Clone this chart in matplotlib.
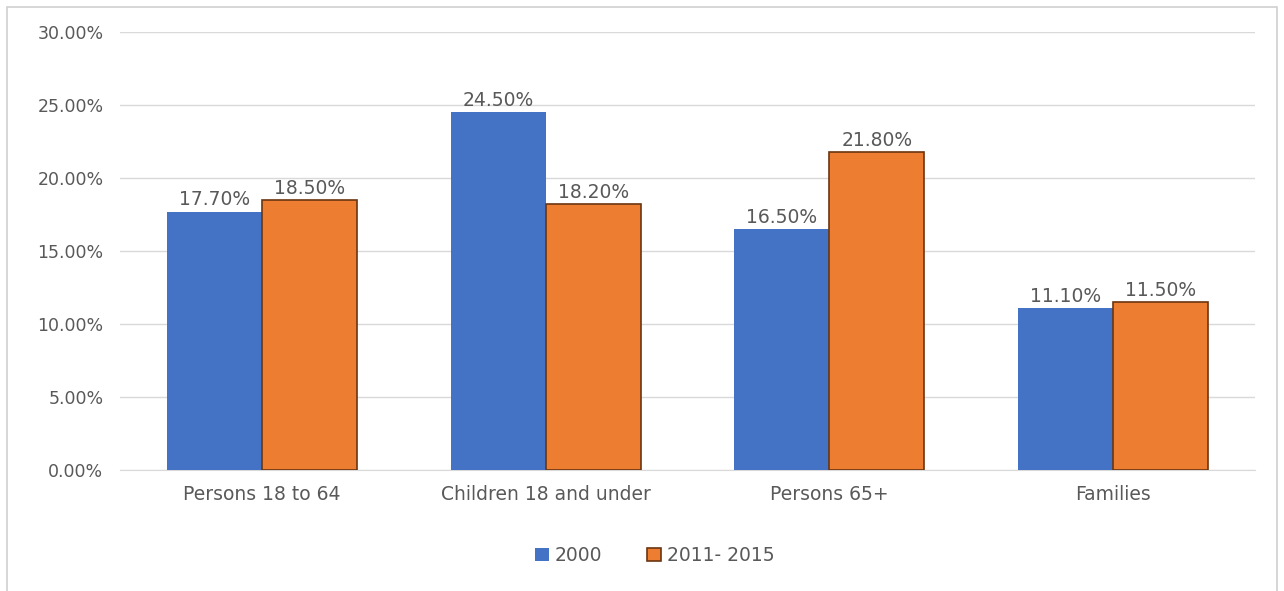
import numpy as np
import matplotlib.pyplot as plt
from matplotlib.patches import Rectangle

categories = ['Persons 18 to 64', 'Children 18 and under', 'Persons 65+', 'Families']
series_names = ['2000', '2011- 2015']
values_2000 = [17.7, 24.5, 16.5, 11.1]
values_2015 = [18.5, 18.2, 21.8, 11.5]
yticks = [0, 5, 10, 15, 20, 25, 30]

blue = '#4472C4'
orange = '#ED7D31'
text_col = '#595959'

plt.rcParams['font.family'] = ['DejaVu Sans']

fig = plt.figure(figsize=(12.84, 5.91), dpi=100)
ax = fig.add_axes([0.0935, 0.2047, 0.8839, 0.7412])

x = np.arange(len(categories))
w = 0.335
b1 = ax.bar(x - w / 2, values_2000, w, color=blue, label=series_names[0], zorder=3)
b2 = ax.bar(x + w / 2, values_2015, w, color=orange, edgecolor='#6b3511', linewidth=1.2,
            label=series_names[1], zorder=3)

for bars in (b1, b2):
    for r in bars:
        ax.text(r.get_x() + r.get_width() / 2, r.get_height() + 0.15, f'{r.get_height():.2f}%',
                ha='center', va='bottom', fontsize=13.5, color=text_col)

ax.set_xlim(-0.5, 3.5)
ax.set_ylim(0, 30)
ax.set_yticks(yticks)
ax.set_yticklabels([f'{v:.2f}%' for v in yticks])
ax.set_xticks(x)
ax.set_xticklabels(categories)
ax.tick_params(axis='both', length=0, labelcolor=text_col)
ax.tick_params(axis='y', pad=12, labelsize=12.5)
ax.tick_params(axis='x', pad=11, labelsize=13.5)
ax.yaxis.grid(True, color='#d9d9d9', linewidth=1, zorder=0)
for s in ['top', 'right', 'left']:
    ax.spines[s].set_visible(False)
ax.spines['bottom'].set_color('#d9d9d9')

leg = fig.legend(loc='center', bbox_to_anchor=(0.51, 0.06), ncol=2, frameon=False,
                 fontsize=13.5, handlelength=0.75, handleheight=0.75, columnspacing=2.4,
                 handletextpad=0.3)
for t in leg.get_texts():
    t.set_color(text_col)

fig.patches.append(Rectangle((7 / 1284, -0.01), 1270 / 1284, 1 - 7 / 591 + 0.01,
                             transform=fig.transFigure, fill=False,
                             edgecolor='#d0d0d0', linewidth=1.2))

fig.savefig('out.png', dpi=100)
